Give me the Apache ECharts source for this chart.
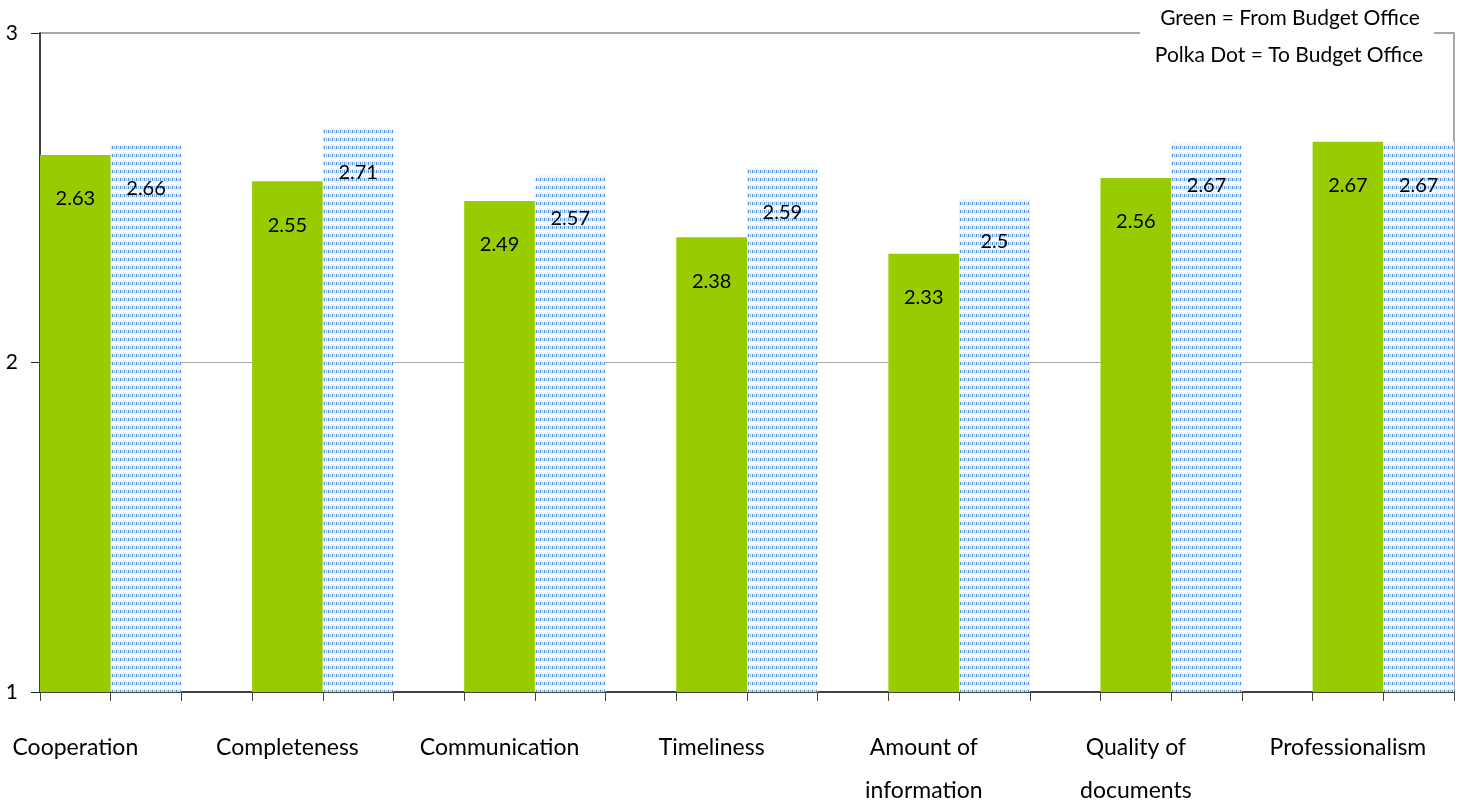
<!DOCTYPE html>
<html>
<head>
<meta charset="utf-8">
<script src="https://cdn.jsdelivr.net/npm/echarts@6/dist/echarts.min.js"></script>
<style>
  html, body { margin: 0; padding: 0; background: #fff; }
  #chart { width: 1460px; height: 801px; }
</style>
</head>
<body>
<div id="chart"></div>
<script>
// Survey categories and mean ratings (scale 1–3)
const categories = ['Cooperation', 'Completeness', 'Communication', 'Timeliness',
  'Amount of\ninformation', 'Quality of\ndocuments', 'Professionalism'];
const fromBudgetOffice = [2.63, 2.55, 2.49, 2.38, 2.33, 2.56, 2.67];
const toBudgetOffice = [2.66, 2.71, 2.57, 2.59, 2.5, 2.67, 2.67];
const legendLines = ['Green = From Budget Office', 'Polka Dot = To Budget Office'];
const yTicks = [1, 2, 3];

// Each category takes three slots on the axis: green bar, dotted bar, gap.
const SLOTS_PER_GROUP = 3;
const slotCount = categories.length * SLOTS_PER_GROUP - 1;
const slotLabels = [];
const greenData = [];
const dotData = [];
for (let s = 0; s < slotCount; s++) {
  const g = Math.floor(s / SLOTS_PER_GROUP), k = s % SLOTS_PER_GROUP;
  slotLabels.push(k === 0 ? categories[g] : '');
  greenData.push(k === 0 ? fromBudgetOffice[g] : '-');
  dotData.push(k === 1 ? toBudgetOffice[g] : '-');
}

// Small repeating tile for the "polka dot" fill
function makeDotPattern() {
  const c = document.createElement('canvas');
  c.width = 4; c.height = 8;
  const ctx = c.getContext('2d');
  ctx.fillStyle = '#f7fafd';
  ctx.fillRect(0, 0, 4, 8);
  ctx.fillStyle = '#eaf1f9';
  ctx.fillRect(0, 1, 4, 1);
  ctx.fillRect(0, 5, 4, 1);
  const cols = ['#4f90d7', '#dce9f7', '#a3c6eb', '#dce9f7'];
  for (let x = 0; x < 4; x++) {
    ctx.fillStyle = cols[x];
    ctx.fillRect(x, 2, 1, 3);
  }
  return c;
}

const FONT = 'Lato, "Open Sans", sans-serif';
const chart = echarts.init(document.getElementById('chart'), null, { renderer: 'canvas' });

const valueLabel = {
  show: true,
  position: 'insideTop',
  distance: 34,
  color: '#000',
  fontFamily: FONT,
  fontSize: 20,
  formatter: p => String(p.value)
};

chart.setOption({
  animation: false,
  backgroundColor: '#fff',
  grid: {
    left: 40, right: 6, top: 33, bottom: 109,
    outerBoundsMode: 'none',
    containLabel: false,
    show: true, borderColor: '#8c8c8c', borderWidth: 1.5, backgroundColor: 'transparent'
  },
  xAxis: {
    type: 'category',
    data: slotLabels,
    boundaryGap: true,
    axisLine: { lineStyle: { color: '#222', width: 1.5 } },
    axisTick: { show: true, interval: 0, length: 9, lineStyle: { color: '#444', width: 1 } },
    axisLabel: {
      interval: 0, margin: 34, color: '#000', fontFamily: FONT, fontSize: 23,
      lineHeight: 43, align: 'center', verticalAlign: 'top', hideOverlap: false
    },
    splitLine: { show: false }
  },
  yAxis: {
    type: 'value',
    min: yTicks[0], max: yTicks[yTicks.length - 1], interval: 1,
    axisLine: { show: true, lineStyle: { color: '#222', width: 1.5 } },
    axisTick: { show: true, length: 9, lineStyle: { color: '#222', width: 1 } },
    axisLabel: { margin: 22, color: '#000', fontFamily: FONT, fontSize: 21 },
    splitLine: { show: true, lineStyle: { color: '#a6a6a6', width: 1 } }
  },
  series: [
    {
      name: 'From Budget Office',
      type: 'bar',
      data: greenData,
      barWidth: '100%',
      barGap: '-100%',
      itemStyle: { color: '#99cc00' },
      label: valueLabel
    },
    {
      name: 'To Budget Office',
      type: 'bar',
      data: dotData,
      barWidth: '100%',
      barGap: '-100%',
      itemStyle: { color: { image: makeDotPattern(), repeat: 'repeat' } },
      label: valueLabel
    }
  ],
  graphic: [
    {
      type: 'rect', left: 1140, top: 0, z: 100,
      shape: { width: 294, height: 75 },
      style: { fill: '#fff' }
    },
    {
      type: 'text', x: 1290, y: 18, z: 101,
      style: { text: legendLines[0], font: '21px ' + FONT, fill: '#000', align: 'center', verticalAlign: 'middle' }
    },
    {
      type: 'text', x: 1289, y: 55, z: 101,
      style: { text: legendLines[1], font: '21px ' + FONT, fill: '#000', align: 'center', verticalAlign: 'middle' }
    }
  ]
});
</script>
</body>
</html>
